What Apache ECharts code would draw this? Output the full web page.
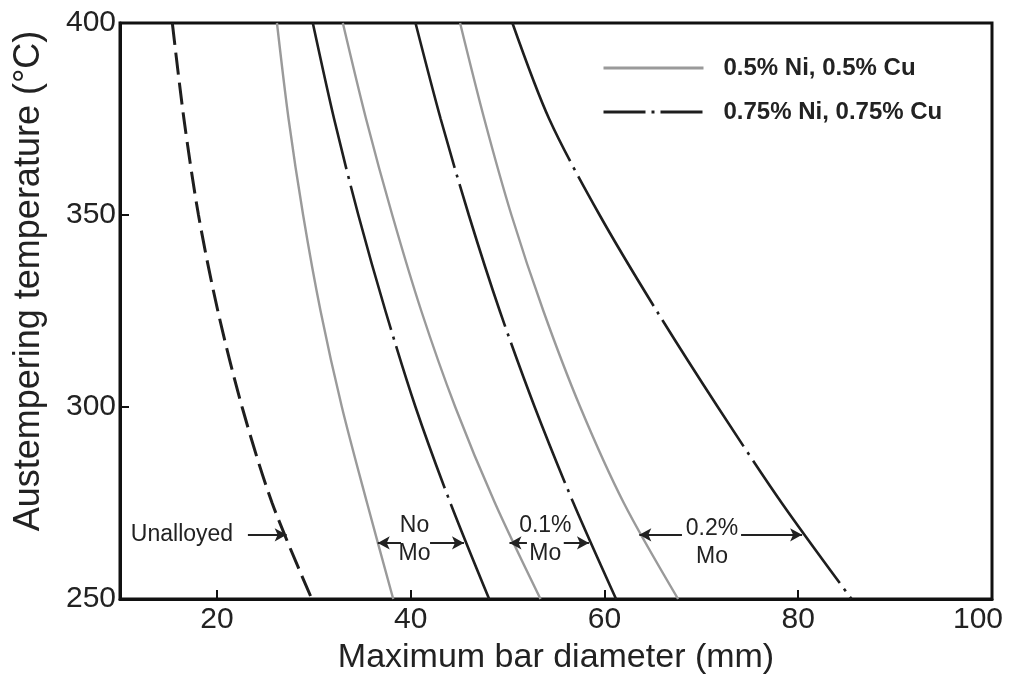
<!DOCTYPE html>
<html>
<head>
<meta charset="utf-8">
<script src="https://cdn.jsdelivr.net/npm/echarts@6/dist/echarts.min.js"></script>
<style>
  html, body { margin: 0; padding: 0; background: #fff; }
  #chart { width: 1010px; height: 679px; }
</style>
</head>
<body>
<div id="chart"></div>
<script>
var temps = [400, 375, 350, 325, 300, 275, 250];

// maximum bar diameter (mm) for each curve at those temperatures
var unalloyed = [15.4, 16.6, 18.1, 20.1, 22.6, 25.7, 29.8];
var noMoLow   = [26.2, 27.4, 28.9, 30.7, 32.9, 35.5, 38.2];
var noMoHigh  = [29.9, 32.1, 34.6, 37.4, 40.5, 44.1, 48.1];
var mo01Low   = [33.0, 35.4, 38.1, 41.1, 44.6, 48.7, 53.4];
var mo01High  = [40.5, 43.1, 46.0, 49.2, 52.8, 56.8, 61.2];
var mo02Low   = [45.1, 47.6, 50.4, 53.7, 57.5, 62.0, 67.6];
var mo02High  = [50.5, 54.3, 59.5, 65.4, 71.7, 78.3, 85.5];

var xTicks = [20, 40, 60, 80, 100];

var lowName = '0.5% Ni, 0.5% Cu';
var highName = '0.75% Ni, 0.75% Cu';

// labels inside the plot: [x, y, text]
var notes = [
  [16.4, 266.7, 'Unalloyed'],
  [40.4, 265.4, 'No\nMo'],
  [53.9, 265.4, '0.1%\nMo'],
  [71.1, 264.6, '0.2%\nMo']
];
// arrows: [fromX, toX, y]
var arrows = [
  [23.2, 27.2, 266.7],
  [39.0, 36.6, 264.6],
  [42.0, 45.5, 264.6],
  [52.0, 50.2, 264.6],
  [55.8, 58.4, 264.6],
  [68.0, 63.6, 266.7],
  [74.1, 80.4, 266.7]
];

function pts(xs) {
  return xs.map(function (x, i) { return [x, temps[i]]; });
}

var font = 'Arial, "Liberation Sans", sans-serif';
var grey = '#9a9a9a';
var dark = '#1e1e1e';
var dashDot = [150, 7, 3, 7];

function curve(name, xs, high) {
  return {
    name: name,
    type: 'line',
    data: pts(xs),
    smooth: 0.3,
    showSymbol: false,
    symbol: 'none',
    silent: true,
    lineStyle: high
      ? { color: dark, width: 2.6, type: dashDot }
      : { color: grey, width: 2.4, type: 'solid' },
    itemStyle: { color: high ? dark : grey },
    z: 3
  };
}

var chart = echarts.init(document.getElementById('chart'));

var option = {
  animation: false,
  backgroundColor: '#fff',
  grid: {
    left: 120, right: 18, top: 23, bottom: 80,
    outerBoundsMode: 'none',
    show: true, borderColor: '#111', borderWidth: 3, backgroundColor: 'transparent'
  },
  legend: {
    left: 597, top: 51,
    orient: 'vertical',
    itemWidth: 100, itemHeight: 14, itemGap: 20,
    selectedMode: false,
    itemStyle: { opacity: 0 },
    lineStyle: { width: 3 },
    textStyle: { fontFamily: font, fontSize: 24, fontWeight: 'bold', color: '#222', padding: [0, 0, 0, 15] },
    data: [
      { name: lowName },
      { name: highName, lineStyle: { type: [42, 6, 3, 6], width: 3 } }
    ]
  },
  xAxis: {
    type: 'value',
    min: 10, max: 100,
    name: 'Maximum bar diameter (mm)',
    nameLocation: 'middle',
    nameGap: 42,
    nameTextStyle: { fontFamily: font, fontSize: 34, color: '#222' },
    axisLine: { show: true, lineStyle: { color: '#111', width: 3 } },
    axisTick: { show: true, inside: true, length: 9, lineStyle: { color: '#111', width: 2 }, customValues: xTicks },
    axisLabel: {
      fontFamily: font, fontSize: 30, color: '#222', margin: 6, customValues: xTicks,
      formatter: function (v) { return v === 100 ? '{m|100}' : String(v); },
      rich: { m: { fontFamily: font, fontSize: 30, color: '#222', padding: [0, 28, 0, 0] } }
    },
    splitLine: { show: false }
  },
  yAxis: {
    type: 'value',
    min: 250, max: 400, interval: 50,
    name: 'Austempering temperature (°C)',
    nameLocation: 'middle',
    nameGap: 73,
    nameTextStyle: { fontFamily: font, fontSize: 36, color: '#222', padding: [0, 0, 0, 60] },
    axisLine: { show: true, lineStyle: { color: '#111', width: 3 } },
    axisTick: { show: true, inside: true, length: 9, lineStyle: { color: '#111', width: 2 } },
    axisLabel: { fontFamily: font, fontSize: 30, color: '#222', margin: 4 },
    splitLine: { show: false }
  },
  series: [
    {
      name: 'Unalloyed',
      type: 'line',
      data: pts(unalloyed),
      smooth: 0.3,
      showSymbol: false,
      symbol: 'none',
      silent: true,
      lineStyle: { color: dark, width: 3, type: [22, 8] },
      z: 3
    },
    curve(lowName, noMoLow, false),
    curve(highName, noMoHigh, true),
    curve(lowName, mo01Low, false),
    curve(highName, mo01High, true),
    curve(lowName, mo02Low, false),
    curve(highName, mo02High, true),
    {
      name: 'notes',
      type: 'scatter',
      data: notes,
      symbolSize: 0,
      silent: true,
      itemStyle: { opacity: 1 },
      label: {
        show: true,
        position: 'inside',
        formatter: function (p) { return p.value[2]; },
        fontFamily: font, fontSize: 23, color: '#222', lineHeight: 28,
        opacity: 1, textBorderWidth: 0,
        align: 'center', verticalAlign: 'middle'
      },
      markLine: {
        silent: true,
        symbol: ['none', 'arrow'],
        symbolSize: [10, 12],
        label: { show: false },
        lineStyle: { color: '#222', width: 2, type: 'solid' },
        data: arrows.map(function (a) {
          return [{ coord: [a[0], a[2]] }, { coord: [a[1], a[2]] }];
        })
      },
      z: 5
    }
  ]
};

chart.setOption(option);
</script>
</body>
</html>
